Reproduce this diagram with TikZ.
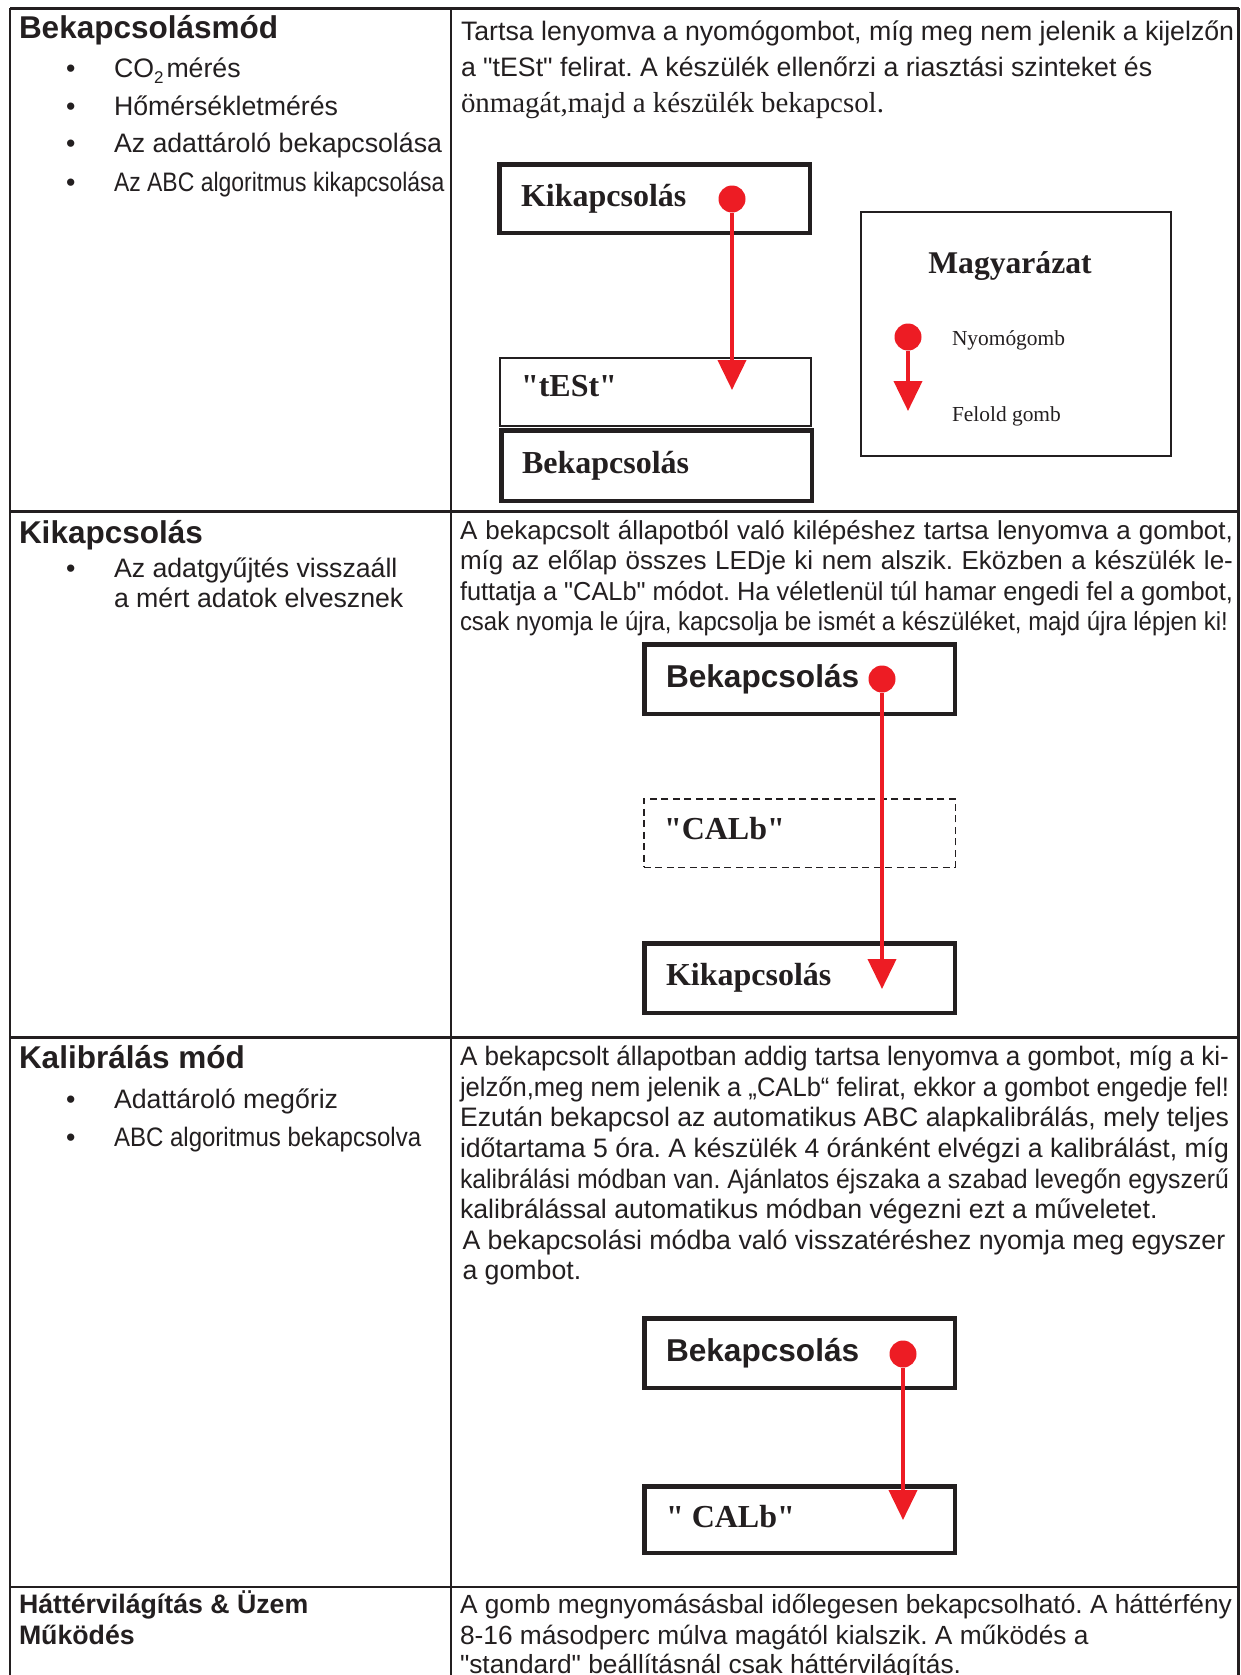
\documentclass[tikz,border=0pt]{standalone}
\usepackage{fontspec}
\usepackage{graphicx}
\setmainfont{Liberation Sans}
\newfontfamily\tnrfam{Liberation Serif}
\newfontfamily\qsans{Liberation Sans}
\usetikzlibrary{arrows.meta}
\definecolor{btnred}{RGB}{237,28,36}
\definecolor{ink}{RGB}{35,31,32}
\newcommand\dq{{\qsans"}}
\newsavebox\jbox
\newcommand\jline[2]{\sbox\jbox{#2}\ifdim\wd\jbox>#1\relax\resizebox{#1}{\height}{\usebox\jbox}\else\makebox[#1][s]{#2}\fi}
\frenchspacing
\begin{document}
\begin{tikzpicture}[x=1pt,y=-1pt,
  txt/.style={anchor=base west,inner sep=0pt,outer sep=0pt,text=ink},
  head/.style={txt,font=\bfseries\fontsize{31.5pt}{34pt}\selectfont},
  body/.style={txt,font=\fontsize{26.7pt}{30pt}\selectfont\frenchspacing},
  cbody/.style={txt,font=\fontsize{26pt}{30pt}\selectfont\frenchspacing},
  lbody/.style={txt,font=\fontsize{26.3pt}{30pt}\selectfont\frenchspacing},
  lhead/.style={txt,font=\bfseries\fontsize{26.7pt}{30pt}\selectfont},
  serifline/.style={txt,font=\tnrfam\fontsize{28.9pt}{30pt}\selectfont},
  serifbold/.style={txt,font=\tnrfam\bfseries\fontsize{32pt}{34pt}\selectfont},
  sansbold/.style={txt,font=\bfseries\fontsize{31.6pt}{34pt}\selectfont},
  legendhead/.style={anchor=base,inner sep=0pt,text=ink,font=\tnrfam\bfseries\fontsize{31.6pt}{34pt}\selectfont},
  legendtxt/.style={txt,font=\tnrfam\fontsize{21.4pt}{24pt}\selectfont},
  gridline/.style={draw=ink,line width=2.5pt},
  thickbox/.style={draw=ink,line width=4.5pt,inner sep=0pt,outer sep=0pt},
  thinbox/.style={draw=ink,line width=1.8pt,inner sep=0pt,outer sep=0pt},
  dashbox/.style={draw=ink,line width=1.5pt,dash pattern=on 7pt off 4.5pt,inner sep=0pt,outer sep=0pt},
  btn/.style={circle,fill=btnred,minimum size=27pt,inner sep=0pt},
  release/.style={draw=btnred,line width=4pt,-{Triangle[width=28pt,length=30pt]}},
]
\useasboundingbox (0,0) rectangle (1240,1675);
\clip (0,0) rectangle (1240,1675);
\fill[white] (0,0) rectangle (1240,1675);

% ---------- table grid ----------
\draw[gridline] (10,8.5) -- (1238.5,8.5);
\draw[gridline] (10,8.5) -- (10,1675);
\draw[gridline] (451,8.5) -- (451,1675);
\draw[gridline] (1238.5,8.5) -- (1238.5,1675);
\draw[gridline] (10,511.6) -- (1238.5,511.6);
\draw[gridline] (10,1037.5) -- (1238.5,1037.5);
\draw[gridline] (10,1587) -- (1238.5,1587);

% ---------- row 1 left ----------
\node[head] (h1) at (19,38.5) {Bekapcsolásmód};
\node[body] (b11) at (66,78) {•};
\node[body] (i11) at (114,78) {CO\raisebox{-6pt}{\fontsize{17pt}{17pt}\selectfont 2}\hspace{3pt}mérés};
\node[body] (b12) at (66,115.5) {•};
\node[body] (i12) at (114,115.5) {Hőmérsékletmérés};
\node[body] (b13) at (66,153) {•};
\node[body] (i13) at (114,153) {Az adattároló bekapcsolása};
\node[body] (b14) at (66,191) {•};
\node[body] (i14) at (114,191) {\scalebox{0.86}[1]{Az ABC algoritmus kikapcsolása}};

% ---------- row 1 right ----------
\node[body] (t11) at (461,40.5) {Tartsa lenyomva a nyomógombot, míg meg nem jelenik a kijelzőn};
\node[body] (t12) at (461,76.8) {a \dq tESt\dq{} felirat. A készülék ellenőrzi a riasztási szinteket és};
\node[serifline] (t13) at (461,113) {önmagát,majd a készülék bekapcsol.};

\node[thickbox,minimum width=310.5pt,minimum height=68.5pt] (kik1) at (654.5,198.5) {};
\node[thinbox,minimum width=311.2pt,minimum height=68.2pt] (test1) at (655.5,392) {};
\node[thickbox,minimum width=310.5pt,minimum height=70.5pt] (bek1) at (656.5,465.5) {};
\node[serifbold] (kik1l) at (521,206) {Kikapcsolás};
\node[serifbold] (test1l) at (521,396) {"tESt"};
\node[serifbold] (bek1l) at (522,473) {Bekapcsolás};

% legend
\node[thinbox,minimum width=310.2pt,minimum height=244.2pt] (legend) at (1016,334) {};
\node[legendhead] (legendh) at (1010,273) {Magyarázat};
\node[legendtxt] (leg1) at (952,345) {Nyomógomb};
\node[legendtxt] (leg2) at (952,421) {Felold gomb};

% ---------- row 2 left ----------
\node[head] (h2) at (19,543.6) {Kikapcsolás};
\node[body] (b21) at (66,577) {•};
\node[body] (i21) at (114,577) {Az adatgyűjtés visszaáll};
\node[body] (i22) at (114,607.5) {a mért adatok elvesznek};

% ---------- row 2 right ----------
\node[cbody] (t21) at (460,539) {\jline{773pt}{A bekapcsolt állapotból való kilépéshez tartsa lenyomva a gombot,}};
\node[cbody] (t22) at (460,569.5) {\jline{773pt}{míg az előlap összes LEDje ki nem alszik. Eközben a készülék le-}};
\node[cbody] (t23) at (460,600) {\jline{773pt}{futtatja a \dq CALb\dq{} módot. Ha véletlenül túl hamar engedi fel a gombot,}};
\node[cbody] (t24) at (460,630.5) {\jline{768pt}{csak nyomja le újra, kapcsolja be ismét a készüléket, majd újra lépjen ki!}};

\node[thickbox,minimum width=310.5pt,minimum height=69.5pt] (bek2) at (799.5,679) {};
\node[dashbox,minimum width=311.5pt,minimum height=68.5pt] (calb2) at (799.5,833) {};
\node[thickbox,minimum width=310.5pt,minimum height=69.5pt] (kik2) at (799.5,978) {};
\node[sansbold] (bek2l) at (666,687) {Bekapcsolás};
\node[serifbold] (calb2l) at (664,839) {"CALb"};
\node[serifbold] (kik2l) at (666,985) {Kikapcsolás};

% ---------- row 3 left ----------
\node[head] (h3) at (19,1068) {Kalibrálás mód};
\node[body] (b31) at (66,1108) {•};
\node[body] (i31) at (114,1108) {Adattároló megőriz};
\node[body] (b32) at (66,1146) {•};
\node[body] (i32) at (114,1146) {\scalebox{0.9}[1]{ABC algoritmus bekapcsolva}};

% ---------- row 3 right ----------
\node[body] (t31) at (460,1065) {\jline{769pt}{A bekapcsolt állapotban addig tartsa lenyomva a gombot, míg a ki-}};
\node[body] (t32) at (460,1096) {\jline{769pt}{jelzőn,meg nem jelenik a „CALb“ felirat, ekkor a gombot engedje fel!}};
\node[body] (t33) at (460,1126.5) {\jline{769pt}{Ezután bekapcsol az automatikus ABC alapkalibrálás, mely teljes}};
\node[body] (t34) at (460,1157) {\jline{769pt}{időtartama 5 óra. A készülék 4 óránként elvégzi a kalibrálást, míg}};
\node[body] (t35) at (460,1188) {\jline{769pt}{kalibrálási módban van. Ajánlatos éjszaka a szabad levegőn egyszerű}};
\node[body] (t36) at (460,1218.5) {kalibrálással automatikus módban végezni ezt a műveletet.};
\node[body] (t37) at (462.5,1249) {A bekapcsolási módba való visszatéréshez nyomja meg egyszer};
\node[body] (t38) at (462.5,1279.5) {a gombot.};

\node[thickbox,minimum width=310.5pt,minimum height=69.5pt] (bek3) at (799.5,1353) {};
\node[thickbox,minimum width=310.5pt,minimum height=66.5pt] (calb3) at (799.5,1519.5) {};
\node[sansbold] (bek3l) at (666,1361) {Bekapcsolás};
\node[serifbold] (calb3l) at (666,1527) {" CALb"};

% ---------- row 4 ----------
\node[lhead] (h41) at (19,1613) {Háttérvilágítás \& Üzem};
\node[lhead] (h42) at (19,1644) {Működés};
\node[lbody] (t41) at (460,1613) {A gomb megnyomásásbal időlegesen bekapcsolható. A háttérfény};
\node[lbody] (t42) at (460,1644) {8-16 másodperc múlva magától kialszik. A működés a};
\node[lbody] (t43) at (460,1673) {\dq standard\dq{} beállításnál csak háttérvilágítás.};

% ---------- buttons and release arrows ----------
\node[btn] (dot1) at (732,199) {};
\coordinate (tip1) at (732,390);
\draw[release] (dot1) -- (tip1);

\node[btn] (dotL) at (908,337) {};
\coordinate (tipL) at (908,411);
\draw[release] (dotL) -- (tipL);

\node[btn] (dot2) at (882,679) {};
\coordinate (tip2) at (882,989);
\draw[release] (dot2) -- (tip2);

\node[btn] (dot3) at (903,1354) {};
\coordinate (tip3) at (903,1520);
\draw[release] (dot3) -- (tip3);
\end{tikzpicture}
\end{document}
